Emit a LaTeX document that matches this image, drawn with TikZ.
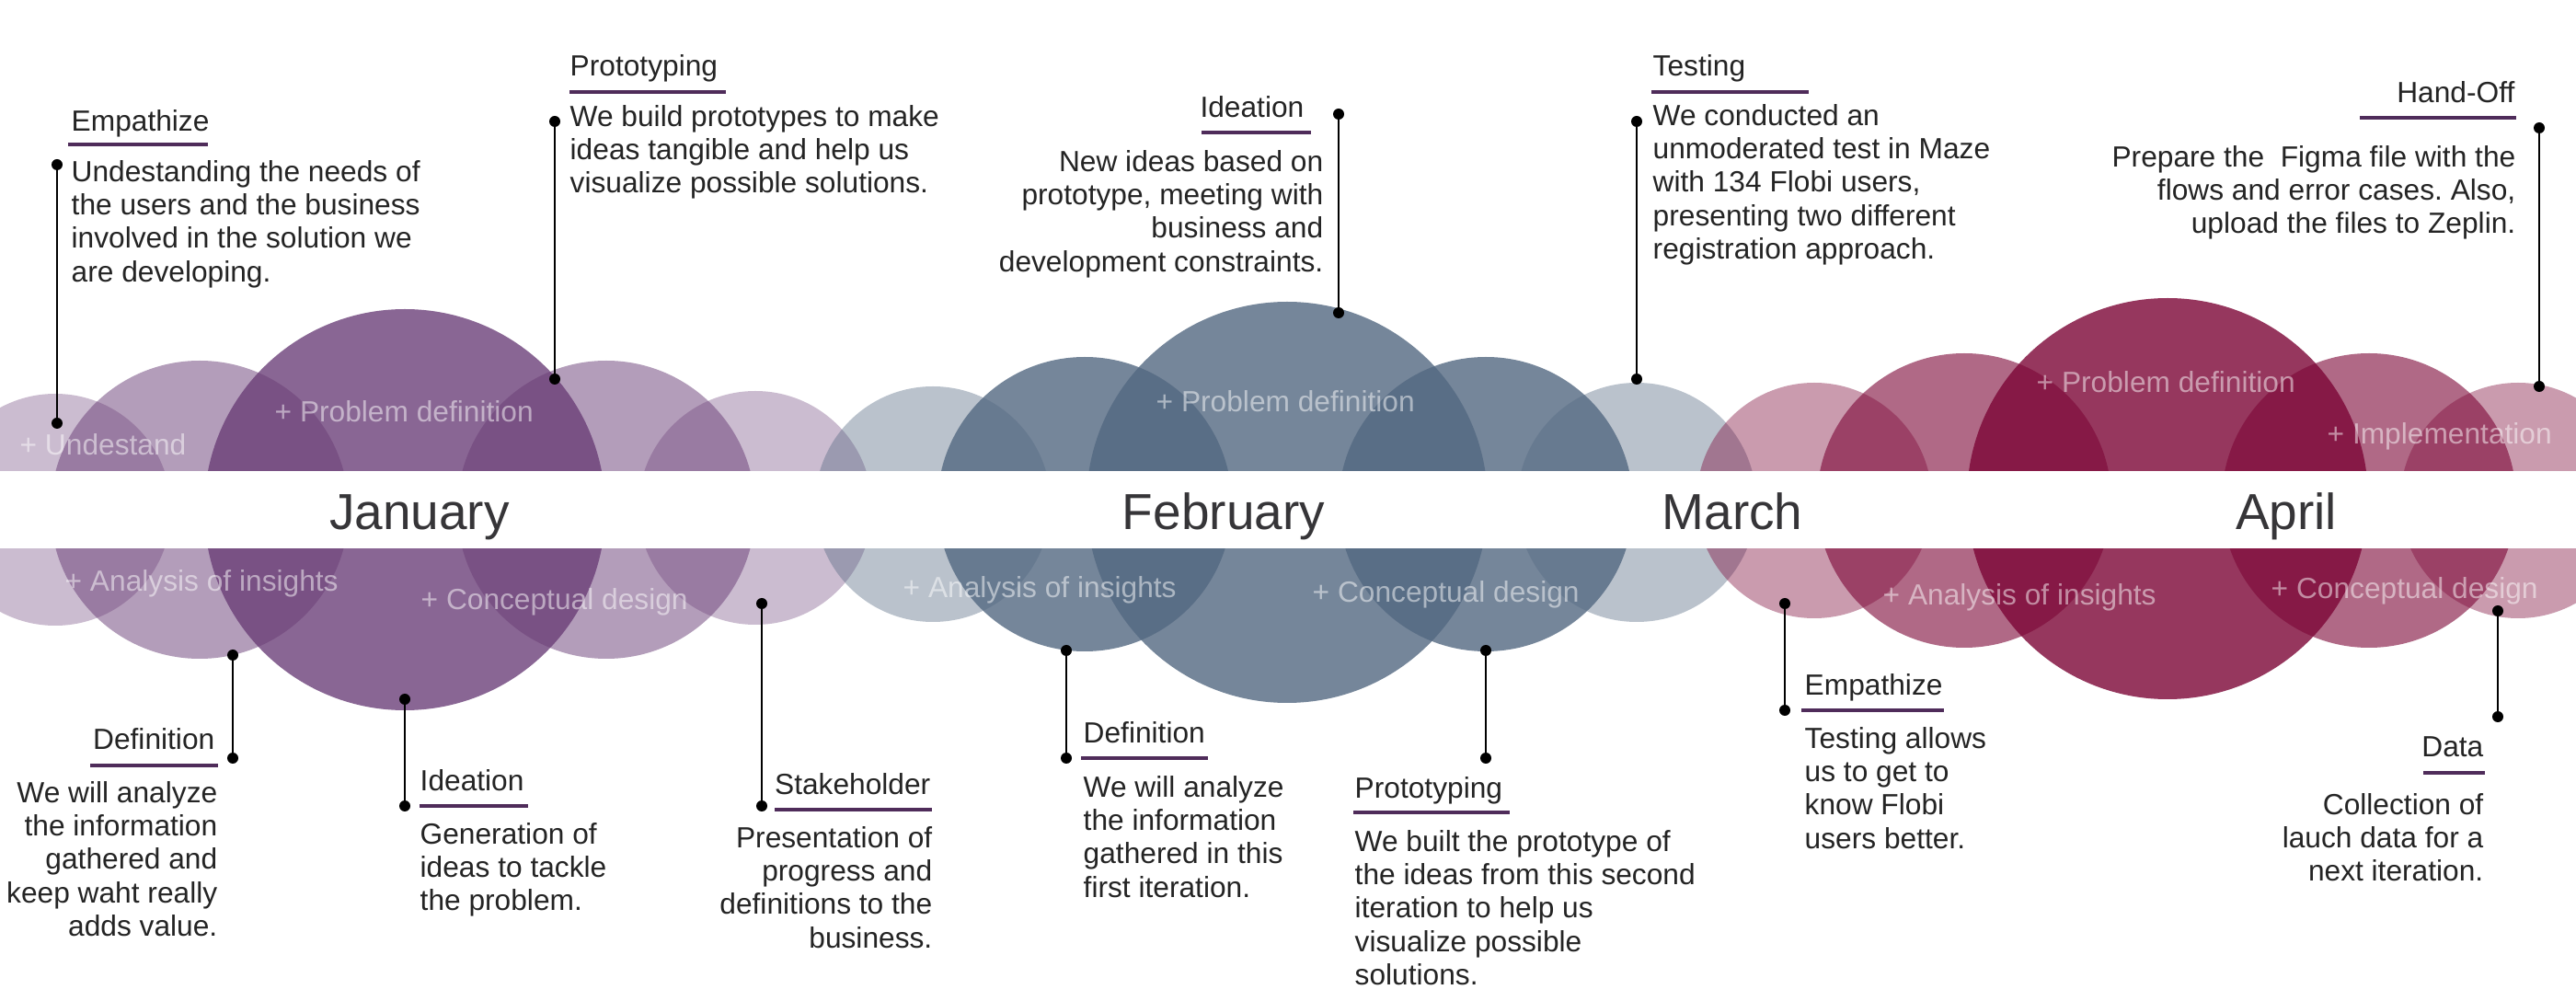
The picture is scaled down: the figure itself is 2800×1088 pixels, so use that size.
\documentclass[tikz,border=0pt]{standalone}
\usepackage{fontspec}
\setmainfont{Liberation Sans}
\frenchspacing
\definecolor{janC}{HTML}{693C76}
\definecolor{febC}{HTML}{536881}
\definecolor{aprC}{HTML}{7C0636}
\definecolor{ink}{HTML}{242424}
\definecolor{monthink}{HTML}{363538}
\definecolor{barpurple}{HTML}{4F2C5A}
\begin{document}
\begin{tikzpicture}[x=0.1mm,y=-0.1mm,
  txt/.style={inner sep=0pt, text=ink, font=\fontsize{9.02}{10.33}\selectfont},
  % body paragraphs hang from the top of their first (strutted) line
  bodyL/.style={txt, align=left, anchor=north west, execute at begin node=\strut},
  bodyR/.style={txt, align=right, anchor=north east, execute at begin node=\strut},
  ttlL/.style={txt, anchor=base west},
  ttlR/.style={txt, anchor=base east},
  lbl/.style={inner sep=0pt, text=white, text opacity=0.5, anchor=base west,
              font=\fontsize{9.02}{10.33}\selectfont},
  month/.style={inner sep=0pt, text=monthink, anchor=base,
                font=\fontsize{15.65}{18}\selectfont},
  ubar/.style={draw=barpurple, line width=0.4mm},
  leader/.style={draw=black, line width=0.2mm},
  pinhead/.style={fill=black},
]
\useasboundingbox (0,0) rectangle (2800,1088);
\fill[white] (0,0) rectangle (2800,1088);

% ---- January bubbles
\fill[janC, opacity=0.34] (60,554) circle (126);
\fill[janC, opacity=0.34] (821,552) circle (127);
\fill[janC, opacity=0.50] (217,554) circle (162);
\fill[janC, opacity=0.50] (659,554) circle (162);
\fill[janC, opacity=0.78] (440,554) circle (218);

% ---- February bubbles
\fill[febC, opacity=0.40] (1014,548) circle (128);
\fill[febC, opacity=0.40] (1779,546) circle (130);
\fill[febC, opacity=0.80] (1179,548) circle (160);
\fill[febC, opacity=0.80] (1615,548) circle (160);
\fill[febC, opacity=0.80] (1399,546) circle (218);

% ---- March / April bubbles
\fill[aprC, opacity=0.40] (1972,544) circle (128);
\fill[aprC, opacity=0.40] (2737,544) circle (128);
\fill[aprC, opacity=0.60] (2135,544) circle (160);
\fill[aprC, opacity=0.60] (2575,544) circle (160);
\fill[aprC, opacity=0.80] (2356,542) circle (218);

% ---- month band
\fill[white] (0,512) rectangle (2800,596);
\node[month] (jan) at (456,576) {January};
\node[month] (feb) at (1330,576) {February};
\node[month] (mar) at (1883,576) {March};
\node[month] (apr) at (2485,576) {April};

% ---- bubble labels
\node[lbl] (l1)  at (21,495)   {+ Undestand};
\node[lbl] (l2)  at (298,459)  {+ Problem definition};
\node[lbl] (l3)  at (70,643)   {+ Analysis of insights};
\node[lbl] (l4)  at (457,663)  {+ Conceptual design};
\node[lbl] (l5)  at (1256,448) {+ Problem definition};
\node[lbl] (l6)  at (981,650)  {+ Analysis of insights};
\node[lbl] (l7)  at (1426,655) {+ Conceptual design};
\node[lbl] (l8)  at (2213,427) {+ Problem definition};
\node[lbl] (l9)  at (2529,483) {+ Implementation};
\node[lbl] (l10) at (2046,658) {+ Analysis of insights};
\node[lbl] (l11) at (2468,651) {+ Conceptual design};

% ---- leader lines with end dots
\coordinate (p1a) at (62,179);    \coordinate (p1b) at (62,460);
\coordinate (p2a) at (603,132);   \coordinate (p2b) at (603,412);
\coordinate (p3a) at (1455,124);  \coordinate (p3b) at (1455,340);
\coordinate (p4a) at (1779,132);  \coordinate (p4b) at (1779,412);
\coordinate (p5a) at (2760,139);  \coordinate (p5b) at (2760,420);
\coordinate (p6a) at (253,712);   \coordinate (p6b) at (253,824);
\coordinate (p7a) at (440,760);   \coordinate (p7b) at (440,876);
\coordinate (p8a) at (828,656);   \coordinate (p8b) at (828,876);
\coordinate (p9a) at (1159,707);  \coordinate (p9b) at (1159,824);
\coordinate (p10a) at (1615,707); \coordinate (p10b) at (1615,824);
\coordinate (p11a) at (1940,656); \coordinate (p11b) at (1940,772);
\coordinate (p12a) at (2715,664); \coordinate (p12b) at (2715,779);
\foreach \i in {1,...,12}{
  \draw[leader] (p\i a) -- (p\i b);
  \fill[pinhead] (p\i a) circle (6);
  \fill[pinhead] (p\i b) circle (6);
}

% ---- top callouts
\node[ttlL] (t1) at (77,143) {Empathize};
\draw[ubar] (74,157) -- (226,157);
\node[bodyL] (b1) at (77,173.6) {Undestanding the needs of\\the users and the business\\involved in the solution we\\are developing.};

\node[ttlL] (t2) at (619,83) {Prototyping};
\draw[ubar] (619,100) -- (789,100);
\node[bodyL] (b2) at (619,113.6) {We build prototypes to make\\ideas tangible and help us\\visualize possible solutions.};

\node[ttlR] (t3) at (1418,128) {Ideation};
\draw[ubar] (1306,144) -- (1425,144);
\node[bodyR] (b3) at (1439,162.6) {New ideas based on\\prototype, meeting with\\business and\\development constraints.};

\node[ttlL] (t4) at (1796,83) {Testing};
\draw[ubar] (1795,100) -- (1966,100);
\node[bodyL] (b4) at (1796,112.6) {We conducted an\\unmoderated test in Maze\\with 134 Flobi users,\\presenting two different\\registration approach.};

\node[ttlR] (t5) at (2734,112) {Hand-Off};
\draw[ubar] (2565,128) -- (2735,128);
\node[bodyR] (b5) at (2735,157.6) {Prepare the\ \ Figma file with the\\flows and error cases. Also,\\upload the files to Zeplin.};

% ---- bottom callouts
\node[ttlR] (t6) at (234,815) {Definition};
\draw[ubar] (98,832) -- (237,832);
\node[bodyR] (b6) at (237,848.6) {We will analyze\\the information\\gathered and\\keep waht really\\adds value.};

\node[ttlL] (t7) at (456,860) {Ideation};
\draw[ubar] (456,876) -- (574,876);
\node[bodyL] (b7) at (456,893.6) {Generation of\\ideas to tackle\\the problem.};

\node[ttlR] (t8) at (1012,863) {Stakeholder};
\draw[ubar] (842,880) -- (1013,880);
\node[bodyR] (b8) at (1014,897.6) {Presentation of\\progress and\\definitions to the\\business.};

\node[ttlL] (t9) at (1177,808) {Definition};
\draw[ubar] (1175,824) -- (1313,824);
\node[bodyL] (b9) at (1177,842.6) {We will analyze\\the information\\gathered in this\\first iteration.};

\node[ttlL] (t10) at (1472,868) {Prototyping};
\draw[ubar] (1471,883) -- (1641,883);
\node[bodyL] (b10) at (1472,901.6) {We built the prototype of\\the ideas from this second\\iteration to help us\\visualize possible\\solutions.};

\node[ttlL] (t11) at (1961,756) {Empathize};
\draw[ubar] (1958,772) -- (2113,772);
\node[bodyL] (b11) at (1961,789.6) {Testing allows\\us to get to\\know Flobi\\users better.};

\node[ttlR] (t12) at (2700,823) {Data};
\draw[ubar] (2634,840) -- (2701,840);
\node[bodyR] (b12) at (2700,861.6) {Collection of\\lauch data for a\\next iteration.};
\end{tikzpicture}
\end{document}
